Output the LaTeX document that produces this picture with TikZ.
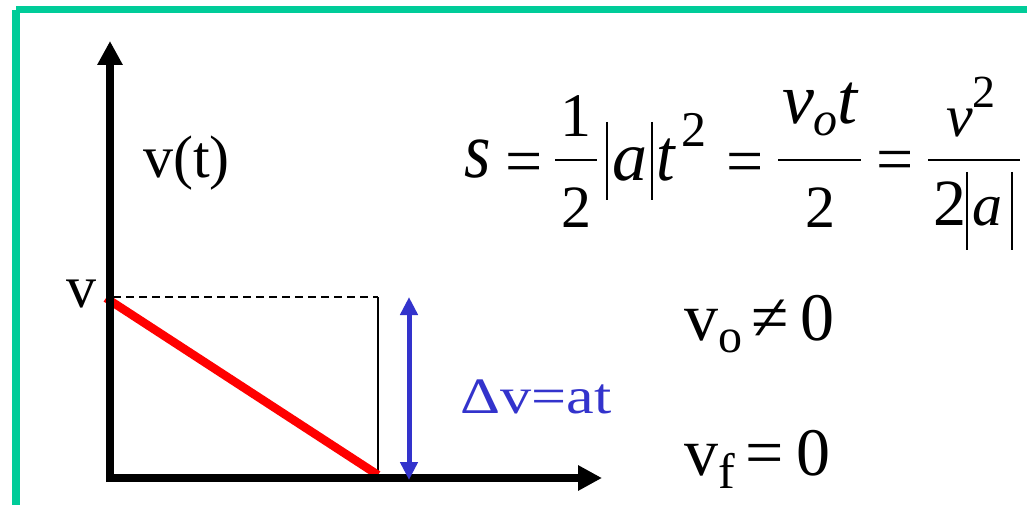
\documentclass[tikz,border=0pt]{standalone}
\usepackage{graphicx}
\usepackage{fontspec}
\setmainfont{Liberation Serif}
\usetikzlibrary{arrows.meta}
\definecolor{framegreen}{HTML}{00CC99}
\definecolor{dvblue}{HTML}{3333CC}
\newcommand\fs[1]{\fontsize{#1}{#1}\selectfont}
\tikzset{
  axisline/.style={line width=8pt,-{Triangle[width=24pt,length=24pt]}},
  thinline/.style={line width=1.5pt},
  redline/.style={line width=8.5pt,red},
  dvarrow/.style={line width=5pt,dvblue,{Triangle[width=17pt,length=18pt]}-{Triangle[width=17pt,length=18pt]}},
  txt/.style={inner sep=0pt,anchor=base west},
  ctxt/.style={inner sep=0pt,anchor=base},
  fracbar/.style={line width=2.5pt},
  absbar/.style={line width=2.5pt},
}
\begin{document}
\begin{tikzpicture}[x=1pt,y=-1pt]
\useasboundingbox (0,0) rectangle (1027,505);
\fill[white] (0,0) rectangle (1027,505);
% frame
\fill[framegreen] (16,6) rectangle (1027,13);
\fill[framegreen] (12,10) rectangle (20,505);
% coordinates
\coordinate (ybot) at (110,482);
\coordinate (ytip) at (110,41);
\coordinate (xl) at (106,478);
\coordinate (xtip) at (602,478);
\coordinate (v0) at (113,297);
\coordinate (rs) at (106,298);
\coordinate (tf) at (378,475);
\coordinate (dtop) at (378,297);
\coordinate (dbot) at (378,477);
\coordinate (btop) at (409,297);
\coordinate (bbot) at (409,480);
% graph
\draw[thinline,dash pattern=on 8pt off 5pt] (v0) -- (dtop);
\draw[thinline] (dtop) -- (dbot);
\draw[redline] (rs) -- (tf);
\draw[axisline] (ybot) -- (ytip);
\draw[axisline] (xl) -- (xtip);
\draw[dvarrow] (btop) -- (bbot);
% labels
\node[txt] (vt) at (143,178) {\fs{60}v(t)};
\node[txt] (vlab) at (66,307) {\fs{60}v};
\node[txt,text=dvblue] (dv) at (460,413) {\scalebox{1.22}[1]{\fs{51}Δv=at}};
\node[txt] (vo) at (684,340) {\fs{68}v\raisebox{-12pt}{\fs{48}o}\hspace{9pt}≠\hspace{12pt}0};
\node[txt] (vf) at (684,475) {\fs{68}v\raisebox{-13pt}{\fs{50}f}\hspace{11pt}=\hspace{12pt}0};
% equation
\node[txt] (s) at (464,178) {\scalebox{0.85}[1]{\fs{80}\itshape s}};
\node[txt] (eq1) at (505,184) {\fs{66}=};
\node[ctxt] (one) at (576,137) {\fs{62}1};
\draw[fracbar] (555,160) -- (597,160);
\node[ctxt] (twoA) at (576,227) {\fs{60}2};
\draw[absbar] (607,122) -- (607,200);
\node[txt] (aA) at (612,180) {\fs{70}\itshape a};
\draw[absbar] (652,122) -- (652,200);
\node[txt] (tA) at (656,180) {\scalebox{0.9}[1]{\fs{74}\itshape t}};
\node[txt] (supA) at (681,147) {\fs{50}2};
\node[txt] (eq2) at (726,184) {\fs{66}=};
\node[ctxt] (numB) at (820,124) {\fs{72}\itshape v\raisebox{-12pt}{\fs{48}o}t};
\draw[fracbar] (778,160) -- (861,160);
\node[ctxt] (twoB) at (820,227) {\fs{60}2};
\node[txt] (eq3) at (876,182) {\fs{66}=};
\node[txt] (vC) at (946,137) {\fs{60}\itshape v};
\node[txt] (supC) at (972,108) {\fs{46}2};
\draw[fracbar] (928,160) -- (1020,160);
\node[txt] (twoC) at (933,225) {\fs{66}2};
\draw[absbar] (967,172) -- (967,250);
\node[txt] (aC) at (972,225) {\fs{60}\itshape a};
\draw[absbar] (1012,172) -- (1012,250);
\end{tikzpicture}
\end{document}
